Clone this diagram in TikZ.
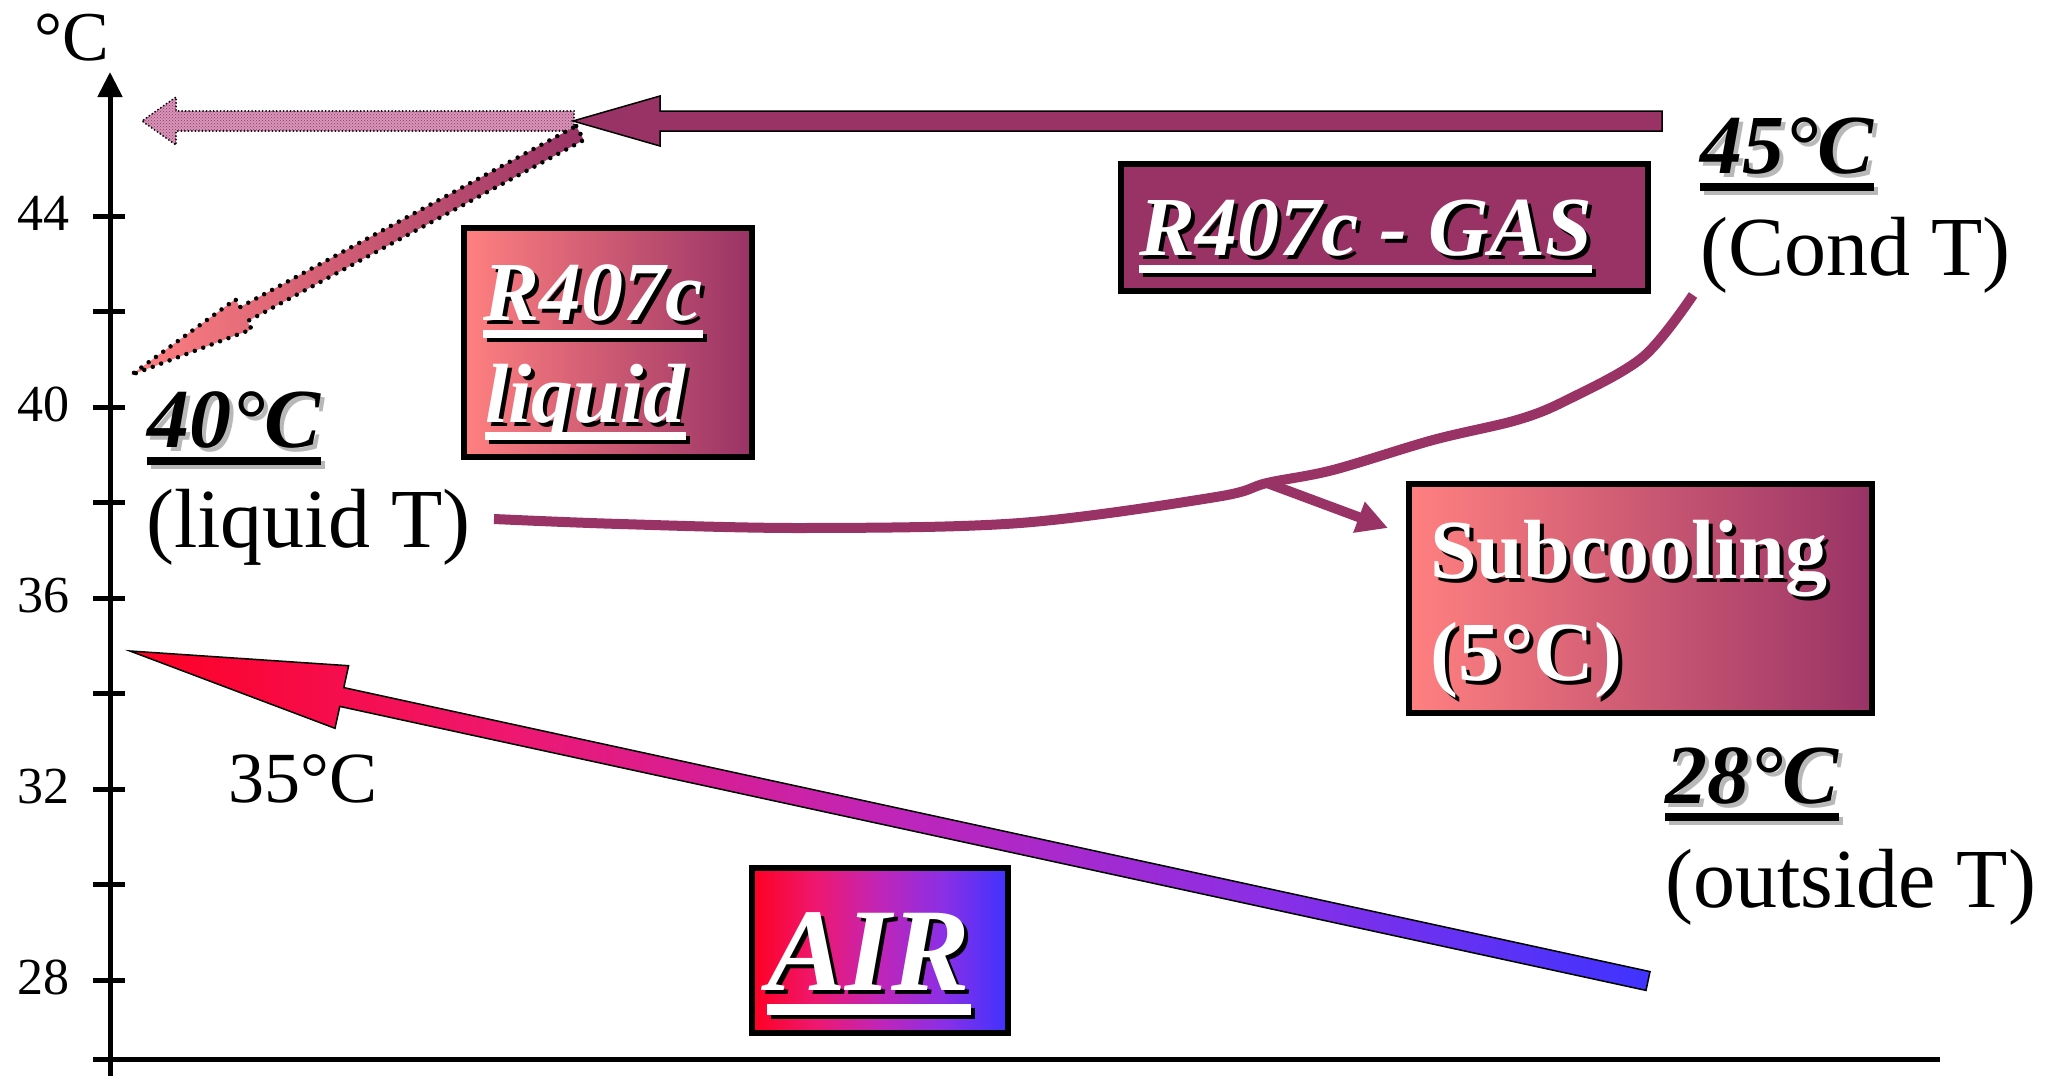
\documentclass[tikz,border=0pt]{standalone}
\usepackage{fontspec}
\setmainfont{Liberation Serif}
\usetikzlibrary{arrows.meta,patterns}

\definecolor{plum}{HTML}{993366}
\definecolor{salmon}{HTML}{FF8080}
\definecolor{airred}{HTML}{FF0022}
\definecolor{airrose}{HTML}{EE1870}
\definecolor{airviolet}{HTML}{C025B8}
\definecolor{airpurple}{HTML}{8A2FE6}
\definecolor{airblue}{HTML}{3F33FF}
\definecolor{pinkfill}{HTML}{D696B8}
\definecolor{softgrey}{HTML}{B8B8B8}

% red to blue blend used for the air stream (the path spans 25bp..75bp)
\pgfdeclarehorizontalshading{airblend}{100bp}{%
  color(0bp)=(airred); color(25bp)=(airred); color(37.5bp)=(airrose);
  color(50bp)=(airviolet); color(62.5bp)=(airpurple);
  color(75bp)=(airblue); color(100bp)=(airblue)}

% thick underline under a piece of text
\newcommand\ulbox[1]{\setbox0=\hbox{#1}\rlap{\rule[-0.21em]{\wd0}{0.09em}}\box0}
% text with a drop shadow: #1 shadow colour, #2 text colour, #3 text
\newcommand\shadowtext[3]{\setbox2=\hbox{#3}\rlap{\kern4pt\raisebox{-4pt}{\color{#1}\copy2}}{\color{#2}\box2}}

\tikzset{
  rm84/.style={font=\fontsize{84}{102}\selectfont, inner sep=0pt, anchor=base west},
  bf84/.style={font=\fontsize{84}{102}\selectfont\bfseries, inner sep=0pt, anchor=base west},
  bi84/.style={font=\fontsize{84}{102}\selectfont\bfseries\itshape, inner sep=0pt, anchor=base west},
  bi118/.style={font=\fontsize{118}{130}\selectfont\bfseries\itshape, inner sep=0pt, anchor=base west},
  rm72/.style={font=\fontsize{72}{84}\selectfont, inner sep=0pt, anchor=base west},
  ticklab/.style={font=\fontsize{52}{60}\selectfont, inner sep=0pt, anchor=base east},
  axisline/.style={line width=5pt},
  framebox/.style={draw=black, line width=6pt, anchor=north west, inner sep=0pt},
  warmbox/.style={framebox, left color=salmon, right color=plum},
  flow/.style={plum, line width=10pt},
  outlined/.style={draw=black, line width=1.5pt, line join=miter},
}

\begin{document}
\begin{tikzpicture}[x=1pt, y=-1pt]
\useasboundingbox (0,0) rectangle (2050,1076);
\fill[white] (0,0) rectangle (2050,1076);

% ---------- axes ----------
\coordinate (yfoot) at (110,1076);
\coordinate (ytop) at (110,72);
\coordinate (xstart) at (93,1059);
\coordinate (xend) at (1940,1059);
\draw[axisline] (xstart) -- (xend);
\draw[axisline, -{Triangle[length=25pt,width=24pt]}] (yfoot) -- (ytop);
\foreach \yy in {216,311.5,407,502.5,598,693.5,789,884.5,980}
  \draw[axisline] (93,\yy) -- (125,\yy);
\foreach \v/\yy in {44/216,40/407,36/598,32/789,28/980}
  \node[ticklab] (lab\v) at (70,\yy+14) {\v};
\node[font=\fontsize{70}{80}\selectfont, inner sep=0pt, anchor=base west] (unit) at (34,60) {°C};

% ---------- condensing line (textured continuation) ----------
\path[fill=pinkfill] (574,111) -- (176,111) -- (176,97) -- (142,121) -- (176,145) -- (176,131) -- (574,131) -- cycle;
\path[pattern=crosshatch dots, pattern color=plum] (574,111) -- (176,111) -- (176,97) -- (142,121) -- (176,145) -- (176,131) -- (574,131) -- cycle;
\draw[line width=2pt, dash pattern=on 0pt off 3.5pt, line cap=round]
  (574,111) -- (176,111) -- (176,97) -- (142,121) -- (176,145) -- (176,131) -- (574,131) -- cycle;

% ---------- liquid cooling arrow (diagonal) ----------
\path[left color=salmon, right color=plum]
  (576.2,126.0) -- (583.8,140.0) -- (247.4,321.3) -- (251.7,329.3) -- (131,375) -- (235.5,299.3) -- (239.8,307.3) -- cycle;
\draw[line width=4.5pt, dash pattern=on 0pt off 9pt, line cap=round]
  (576.2,126.0) -- (583.8,140.0) -- (247.4,321.3) -- (251.7,329.3) -- (131,375) -- (235.5,299.3) -- (239.8,307.3) -- cycle;

% ---------- gas arrow ----------
\draw[outlined, fill=plum]
  (1662,111) -- (660,111) -- (660,96) -- (573,121) -- (660,146) -- (660,131) -- (1662,131) -- cycle;

% ---------- air arrow ----------
\draw[outlined, shading=airblend]
  (1650,971.6) -- (343.8,687.6) -- (348.6,665.7) -- (130,651) -- (335,728.3) -- (339.8,706.4) -- (1646,990.4) -- cycle;

% ---------- boxes ----------
\node[warmbox, minimum width=288pt, minimum height=229pt] (liqbox) at (461,225) {};
\node[framebox, fill=plum, minimum width=527pt, minimum height=127pt] (gasbox) at (1118,161) {};
\node[warmbox, minimum width=463pt, minimum height=229pt] (subbox) at (1406,481) {};
\node[framebox, shading=airblend, minimum width=256pt, minimum height=165pt] (airbox) at (749,865) {};

% ---------- subcooling curve ----------
\coordinate (lq) at (494,519);
\coordinate (br) at (1267,483);
\coordinate (cond) at (1693,295);
\coordinate (sctip) at (1388,528);
\draw[flow] plot[smooth, tension=0.55] coordinates
  {(lq) (620,524) (804,528) (1020,523) (1216,497) (br) (1333,470) (1433,440) (1517,420) (1567,400) (1643,357) (cond)};
\draw[flow, -{Triangle[length=31pt,width=31pt]}] (br) -- (sctip);

% ---------- labels ----------
\node[bi84] (t40) at (147,447) {\shadowtext{softgrey}{black}{\ulbox{40°C}}};
\node[rm84] (t40b) at (146,547) {(liquid T)};
\node[bi84] (tliq1) at (483,320) {\shadowtext{black}{white}{\ulbox{R407c}}};
\node[bi84] (tliq2) at (485,422) {\shadowtext{black}{white}{\ulbox{liquid}}};
\node[bi84] (tgas) at (1139,255) {\shadowtext{black}{white}{\ulbox{R407c - GAS}}};
\node[bi84] (t45) at (1700,173) {\shadowtext{softgrey}{black}{\ulbox{45°C}}};
\node[rm84] (t45b) at (1700,275) {(Cond T)};
\node[bf84] (tsub1) at (1430,578) {\shadowtext{black}{white}{Subcooling}};
\node[bf84] (tsub2) at (1430,680) {\shadowtext{black}{white}{(5°C)}};
\node[bi84] (t28) at (1665,803) {\shadowtext{softgrey}{black}{\ulbox{28°C}}};
\node[rm84] (t28b) at (1665,907) {(outside T)};
\node[rm72] (t35) at (228,802) {35°C};
\node[bi118] (tair) at (767,990) {\shadowtext{black}{white}{\ulbox{AIR}}};
\end{tikzpicture}
\end{document}
